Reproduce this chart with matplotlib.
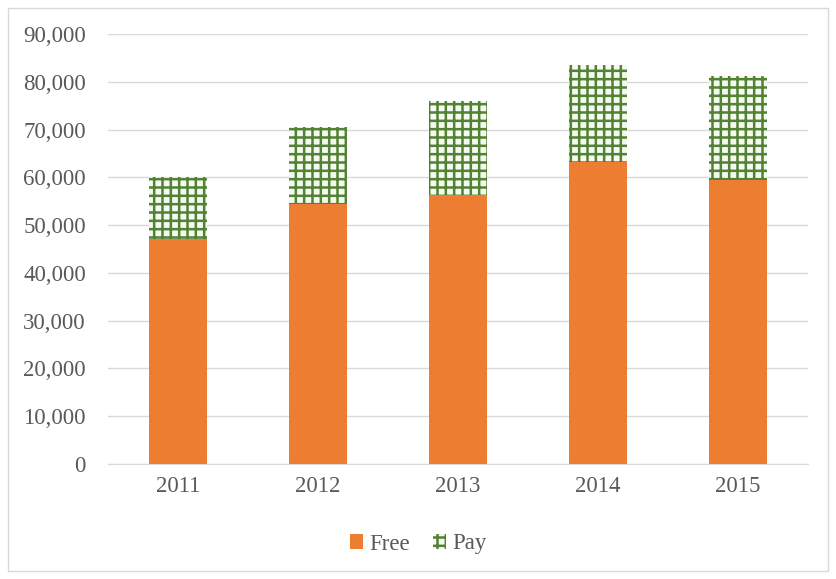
import matplotlib
matplotlib.use("Agg")
import matplotlib.pyplot as plt
from matplotlib.ticker import FuncFormatter
from matplotlib.patches import Rectangle

years = ["2011", "2012", "2013", "2014", "2015"]
free = [47000, 54400, 56300, 63300, 59400]
pay = [13000, 16100, 19700, 20200, 21800]

plt.rcParams['font.family'] = ['Liberation Serif', 'DejaVu Serif']
plt.rcParams['hatch.linewidth'] = 1.8

fig = plt.figure(figsize=(8.36, 5.79), dpi=100)
ax = fig.add_axes([108/836, 1-464/579, 700/836, 430/579])

x = list(range(len(years)))
ax.bar(x, free, width=0.41, color='#ED7D31', label='Free', zorder=3)
ax.bar(x, pay, bottom=free, width=0.41, facecolor='#F4FAF0', edgecolor='#548235',
       linewidth=0, hatch='++', label='Pay', zorder=3)

ax.set_ylim(0, 90000)
ax.set_xlim(-0.5, 4.5)
ax.set_yticks(range(0, 90001, 10000))
ax.yaxis.set_major_formatter(FuncFormatter(lambda v, p: f"{int(v):,}"))
ax.set_xticks(x)
ax.set_xticklabels(years)
ax.grid(axis='y', color='#D9D9D9', linewidth=1, zorder=0)
for s in ['top', 'right', 'left']:
    ax.spines[s].set_visible(False)
ax.spines['bottom'].set_color('#D9D9D9')
ax.tick_params(axis='both', length=0, labelsize=16.5, colors='#595959')
ax.tick_params(axis='y', pad=16)
ax.tick_params(axis='x', pad=9)

leg = fig.legend(loc='center', bbox_to_anchor=(0.5, 1-544/579), ncol=2, frameon=False,
                 fontsize=16.5, handlelength=0.6, handleheight=0.6, handletextpad=0.25,
                 columnspacing=1.0)
for t in leg.get_texts():
    t.set_color('#595959')

fig.patches.append(Rectangle((8/836, 8/579), 820/836, 563/579, transform=fig.transFigure,
                             fill=False, edgecolor='#D9D9D9', linewidth=1))
fig.savefig("out.png", dpi=100, facecolor='white')
